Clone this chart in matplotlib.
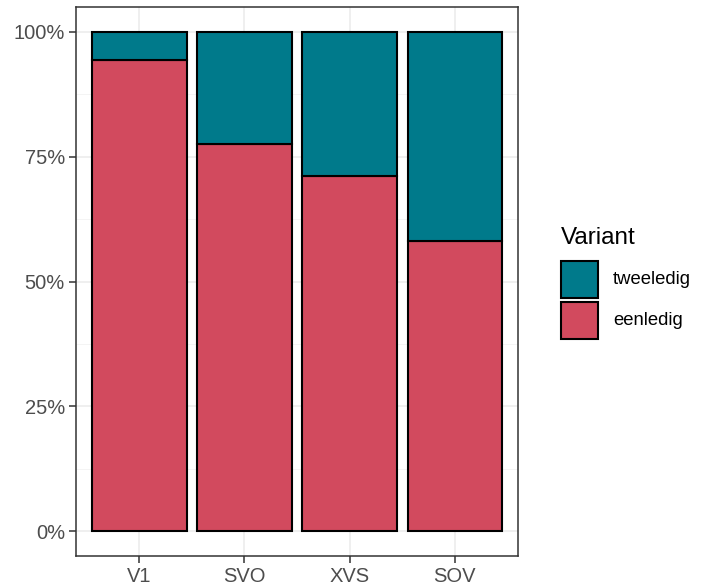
import numpy as np
import matplotlib.pyplot as plt
from matplotlib.patches import Rectangle
from matplotlib.ticker import FuncFormatter, MultipleLocator

plt.rcParams['font.family'] = ['Liberation Sans', 'DejaVu Sans']

# Data: share of each variant per word order
categories = ["V1", "SVO", "XVS", "SOV"]
eenledig = [0.944, 0.776, 0.712, 0.582]
tweeledig = [1 - v for v in eenledig]
legend_labels = ["tweeledig", "eenledig"]

red = "#D24A5E"
teal = "#007A8B"
W, H = 704, 584

fig = plt.figure(figsize=(W / 100, H / 100), dpi=100)
ax = fig.add_axes([76 / W, 28 / H, 442 / W, 549 / H])

x = np.arange(len(categories))
ax.bar(x, eenledig, width=0.9, color=red, edgecolor="black", linewidth=1.5, zorder=3)
ax.bar(x, tweeledig, width=0.9, bottom=eenledig, color=teal, edgecolor="black",
       linewidth=1.5, zorder=3)

ax.set_xlim(-0.6, len(categories) - 0.4)
ax.set_ylim(-0.05, 1.05)
ax.set_xticks(x)
ax.set_xticklabels(categories)
ax.yaxis.set_major_locator(MultipleLocator(0.25))
ax.yaxis.set_minor_locator(MultipleLocator(0.125))
ax.yaxis.set_major_formatter(FuncFormatter(lambda v, p: f"{v * 100:.0f}%"))

ax.grid(which="major", color="#EBEBEB", linewidth=1.1, zorder=0)
ax.grid(which="minor", axis="y", color="#F2F2F2", linewidth=0.6, zorder=0)
ax.set_axisbelow(True)

for s in ax.spines.values():
    s.set_color("#333333")
    s.set_linewidth(1.1)
ax.tick_params(which="major", length=5, width=1.1, color="#333333",
               labelsize=14.5, labelcolor="#4D4D4D", pad=3)
ax.tick_params(which="minor", length=0)

# legend drawn by hand in pixel positions
fig.text(561 / W, 1 - 244 / H, "Variant", fontsize=17.5, va="baseline", ha="left")
key_tops = [261, 302]
for top, col, lab in zip(key_tops, [teal, red], legend_labels):
    fig.add_artist(Rectangle((561 / W, 1 - (top + 37) / H), 37 / W, 37 / H,
                             facecolor=col, edgecolor="black", linewidth=1.5,
                             transform=fig.transFigure))
    fig.text(613 / W, 1 - (top + 18.5) / H, lab, fontsize=13.3, va="center", ha="left")

fig.savefig("out.png", dpi=100)
